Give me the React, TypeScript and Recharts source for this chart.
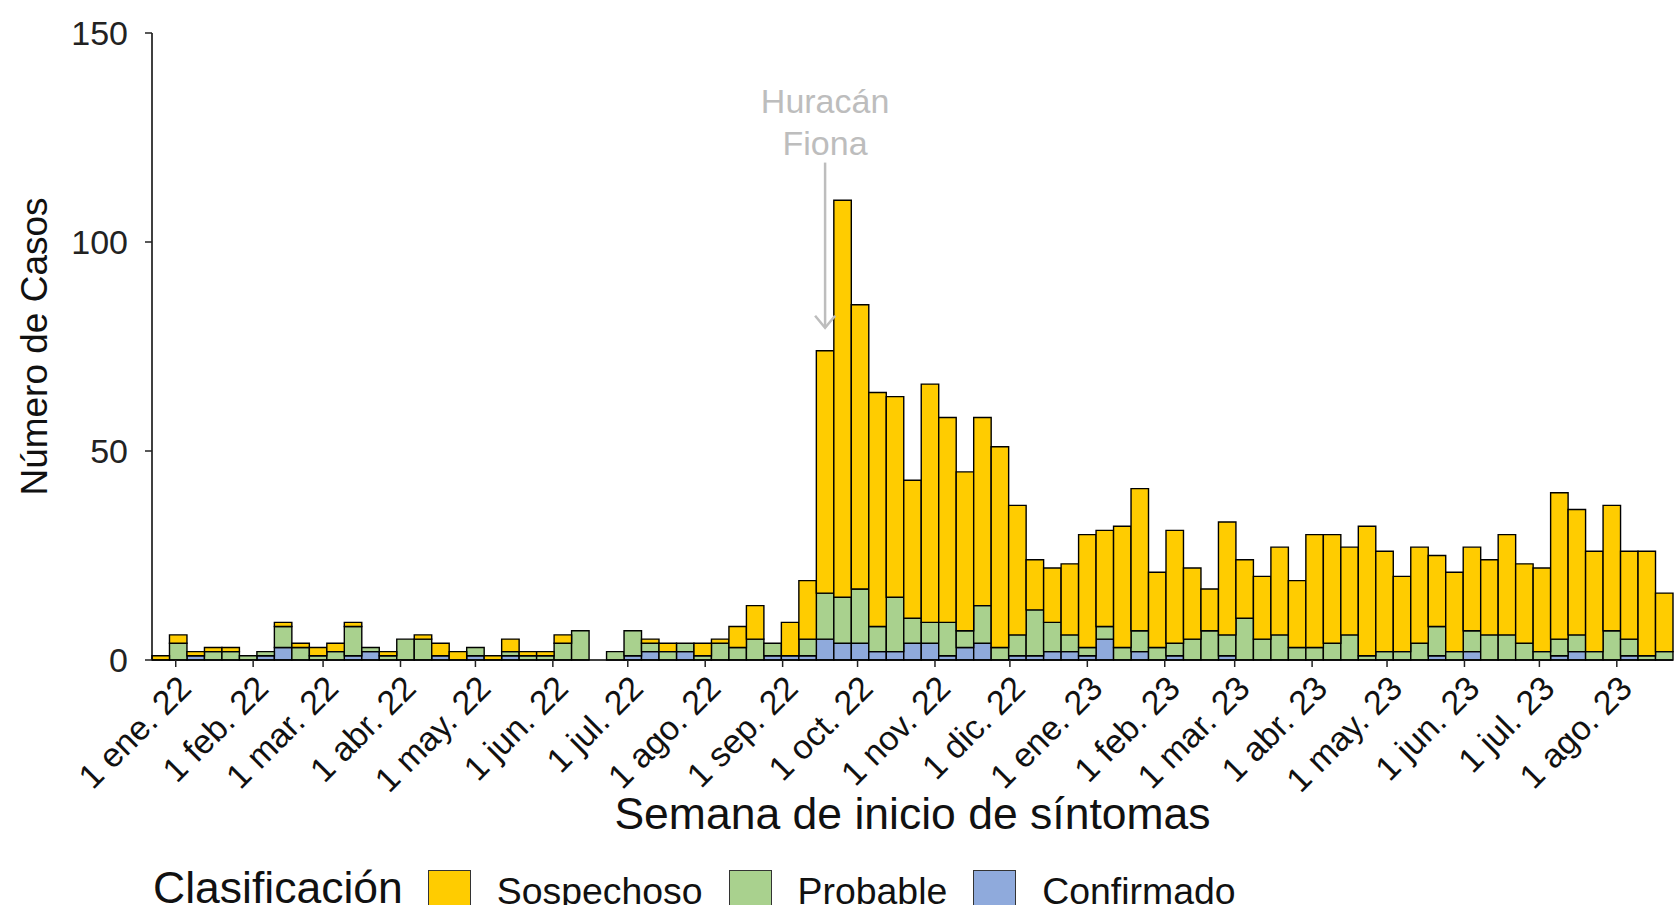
import { BarChart, Bar, XAxis, YAxis, ReferenceLine } from 'recharts';

// epidemiological weeks (Sunday start)
const weeks = [
  '2021-12-26', '2022-01-02', '2022-01-09', '2022-01-16', '2022-01-23', '2022-01-30',
  '2022-02-06', '2022-02-13', '2022-02-20', '2022-02-27', '2022-03-06', '2022-03-13',
  '2022-03-20', '2022-03-27', '2022-04-03', '2022-04-10', '2022-04-17', '2022-04-24',
  '2022-05-01', '2022-05-08', '2022-05-15', '2022-05-22', '2022-05-29', '2022-06-05',
  '2022-06-12', '2022-06-19', '2022-06-26', '2022-07-03', '2022-07-10', '2022-07-17',
  '2022-07-24', '2022-07-31', '2022-08-07', '2022-08-14', '2022-08-21', '2022-08-28',
  '2022-09-04', '2022-09-11', '2022-09-18', '2022-09-25', '2022-10-02', '2022-10-09',
  '2022-10-16', '2022-10-23', '2022-10-30', '2022-11-06', '2022-11-13', '2022-11-20',
  '2022-11-27', '2022-12-04', '2022-12-11', '2022-12-18', '2022-12-25', '2023-01-01',
  '2023-01-08', '2023-01-15', '2023-01-22', '2023-01-29', '2023-02-05', '2023-02-12',
  '2023-02-19', '2023-02-26', '2023-03-05', '2023-03-12', '2023-03-19', '2023-03-26',
  '2023-04-02', '2023-04-09', '2023-04-16', '2023-04-23', '2023-04-30', '2023-05-07',
  '2023-05-14', '2023-05-21', '2023-05-28', '2023-06-04', '2023-06-11', '2023-06-18',
  '2023-06-25', '2023-07-02', '2023-07-09', '2023-07-16', '2023-07-23', '2023-07-30',
  '2023-08-06', '2023-08-13', '2023-08-20',
];

const sospechoso = [
  1, 2, 1, 1, 1, 0, 0, 1, 1, 2, 2, 1, 0, 1, 0, 1, 3, 2, 0, 1, 3, 1, 1, 2, 0, 0,
  0, 0, 1, 2, 0, 3, 1, 5, 8, 0, 8, 14, 58, 95, 68, 56, 48, 33, 57, 49, 38, 45, 48, 31,
  12, 13, 17, 27, 23, 29, 34, 18, 27, 17, 10, 27, 14, 15, 21, 16, 27, 26, 21, 31, 24,
  18, 23, 17, 19, 20, 18, 24, 19, 20, 35, 30, 24, 30, 21, 25, 14,
];

const probable = [
  0, 4, 0, 2, 2, 1, 1, 5, 3, 1, 2, 7, 1, 1, 5, 5, 0, 0, 2, 0, 1, 1, 1, 4, 7, 0,
  2, 6, 2, 2, 2, 1, 4, 3, 5, 3, 0, 4, 11, 11, 13, 6, 13, 6, 5, 8, 4, 9, 3, 5,
  11, 7, 4, 2, 3, 3, 5, 3, 3, 5, 7, 5, 10, 5, 6, 3, 3, 4, 6, 1, 2,
  2, 4, 7, 2, 5, 6, 6, 4, 2, 4, 4, 2, 7, 4, 1, 2,
];

const confirmado = [
  0, 0, 1, 0, 0, 0, 1, 3, 0, 0, 0, 1, 2, 0, 0, 0, 1, 0, 1, 0, 1, 0, 0, 0, 0, 0,
  0, 1, 2, 0, 2, 0, 0, 0, 0, 1, 1, 1, 5, 4, 4, 2, 2, 4, 4, 1, 3, 4, 0, 1,
  1, 2, 2, 1, 5, 0, 2, 0, 1, 0, 0, 1, 0, 0, 0, 0, 0, 0, 0, 0, 0,
  0, 0, 1, 0, 2, 0, 0, 0, 0, 1, 2, 0, 0, 1, 0, 0,
];

const tickDates = [
  '2022-01-01', '2022-02-01', '2022-03-01', '2022-04-01', '2022-05-01', '2022-06-01',
  '2022-07-01', '2022-08-01', '2022-09-01', '2022-10-01', '2022-11-01', '2022-12-01',
  '2023-01-01', '2023-02-01', '2023-03-01', '2023-04-01', '2023-05-01', '2023-06-01',
  '2023-07-01', '2023-08-01',
];
const tickLabels = [
  '1 ene. 22', '1 feb. 22', '1 mar. 22', '1 abr. 22', '1 may. 22', '1 jun. 22',
  '1 jul. 22', '1 ago. 22', '1 sep. 22', '1 oct. 22', '1 nov. 22', '1 dic. 22',
  '1 ene. 23', '1 feb. 23', '1 mar. 23', '1 abr. 23', '1 may. 23', '1 jun. 23',
  '1 jul. 23', '1 ago. 23',
];
const yTicks = [0, 50, 100, 150];

const fionaWeek = '2022-09-18';

const series = [
  { key: 'Sospechoso', color: '#FFCC00' },
  { key: 'Probable', color: '#A9D18E' },
  { key: 'Confirmado', color: '#8FAADC' },
];

const FONT = "'Liberation Sans', Arial, Helvetica, sans-serif";
const DAY = 86400000;
const origin = Date.parse(weeks[0]);
const toWeek = (d: string) => (Date.parse(d) - origin) / (7 * DAY);

const data = weeks.map((w, i) => ({
  x: toWeek(w),
  week: w,
  Confirmado: confirmado[i],
  Probable: probable[i],
  Sospechoso: sospechoso[i],
}));

const xTicks = tickDates.map(toWeek);

const XTick = (props: any) => {
  const { x, y, payload } = props;
  let i = payload.index;
  if (i == null || xTicks[i] !== payload.value) {
    i = xTicks.findIndex((t) => Math.abs(t - payload.value) < 1e-6);
  }
  return (
    <text
      x={x}
      y={y}
      dy="0.72em"
      textAnchor="end"
      transform={`rotate(-45 ${x} ${y})`}
      fontSize={34}
      fontFamily={FONT}
      fill="#111"
    >
      {tickLabels[i]}
    </text>
  );
};

const XTitle = (props: any) => {
  const vb = props.viewBox || { x: 152, width: 1521 };
  return (
    <text x={vb.x + vb.width / 2} y={829} textAnchor="middle" fontSize={44.5} fontFamily={FONT} fill="#111">
      Semana de inicio de síntomas
    </text>
  );
};

const YTitle = (props: any) => {
  const vb = props.viewBox || { y: 33, height: 627 };
  const cy = vb.y + vb.height / 2;
  return (
    <text x={47} y={cy} textAnchor="middle" transform={`rotate(-90 47 ${cy})`} fontSize={37} fontFamily={FONT} fill="#111">
      Número de Casos
    </text>
  );
};

const FionaArrow = (props: any) => {
  const { x1, y1, x2, y2 } = props;
  const top = Math.min(y1, y2);
  const tip = Math.max(y1, y2);
  const gray = '#bdbdbd';
  return (
    <g>
      <line x1={x1} y1={top} x2={x2} y2={tip} stroke={gray} strokeWidth={2.5} />
      <polyline
        points={`${x2 - 10},${tip - 12} ${x2},${tip} ${x2 + 10},${tip - 12}`}
        fill="none"
        stroke={gray}
        strokeWidth={2.5}
      />
      <text x={x1} y={top - 50} textAnchor="middle" fontSize={34} fontFamily={FONT} fill={gray}>
        Huracán
      </text>
      <text x={x1} y={top - 8} textAnchor="middle" fontSize={34} fontFamily={FONT} fill={gray}>
        Fiona
      </text>
    </g>
  );
};

function LegendRow() {
  return (
    <div
      style={{
        position: 'absolute',
        left: 153,
        top: 866,
        display: 'flex',
        alignItems: 'flex-start',
        fontFamily: FONT,
        color: '#111',
      }}
    >
      <span style={{ fontSize: 44.5, lineHeight: 1, marginRight: 25 }}>Clasificación</span>
      {series.map((s) => (
        <div key={s.key} style={{ display: 'flex', alignItems: 'flex-start', marginRight: 26 }}>
          <div
            style={{
              width: 41,
              height: 44,
              marginTop: 4,
              background: s.color,
              border: '1.5px solid #333',
              marginRight: 26,
            }}
          />
          <span style={{ fontSize: 37.4, lineHeight: 1, marginTop: 7 }}>{s.key}</span>
        </div>
      ))}
    </div>
  );
}

export default function App() {
  return (
    <div
      style={{
        position: 'absolute',
        left: 0,
        top: 0,
        width: 1674,
        height: 905,
        overflow: 'hidden',
        background: '#fff',
      }}
    >
      <BarChart
        width={1674}
        height={905}
        data={data}
        margin={{ top: 33, right: 1, bottom: 0, left: 0 }}
        barGap={0}
      >
        <XAxis
          dataKey="x"
          type="number"
          domain={[-0.5, weeks.length - 0.5]}
          ticks={xTicks}
          interval={0}
          height={245}
          tickSize={7}
          tickMargin={6}
          tick={<XTick />}
          axisLine={{ stroke: '#000', strokeWidth: 1.5 }}
          tickLine={{ stroke: '#222', strokeWidth: 1.5 }}
          label={<XTitle />}
        />
        <YAxis
          type="number"
          domain={[0, 150]}
          ticks={yTicks}
          interval={0}
          width={152}
          tickSize={7}
          tickMargin={17}
          tick={{ fontSize: 34, fontFamily: FONT, fill: '#222' }}
          axisLine={{ stroke: '#000', strokeWidth: 1.5 }}
          tickLine={{ stroke: '#222', strokeWidth: 1.5 }}
          label={<YTitle />}
        />
        {[...series].reverse().map((s) => (
          <Bar
            key={s.key}
            dataKey={s.key}
            stackId="casos"
            fill={s.color}
            stroke="#000"
            strokeWidth={1.4}
            barSize={17.48}
            isAnimationActive={false}
          />
        ))}
        <ReferenceLine
          segment={[
            { x: toWeek(fionaWeek), y: 119 },
            { x: toWeek(fionaWeek), y: 79.5 },
          ]}
          ifOverflow="visible"
          shape={<FionaArrow />}
        />
      </BarChart>
      <LegendRow />
    </div>
  );
}
